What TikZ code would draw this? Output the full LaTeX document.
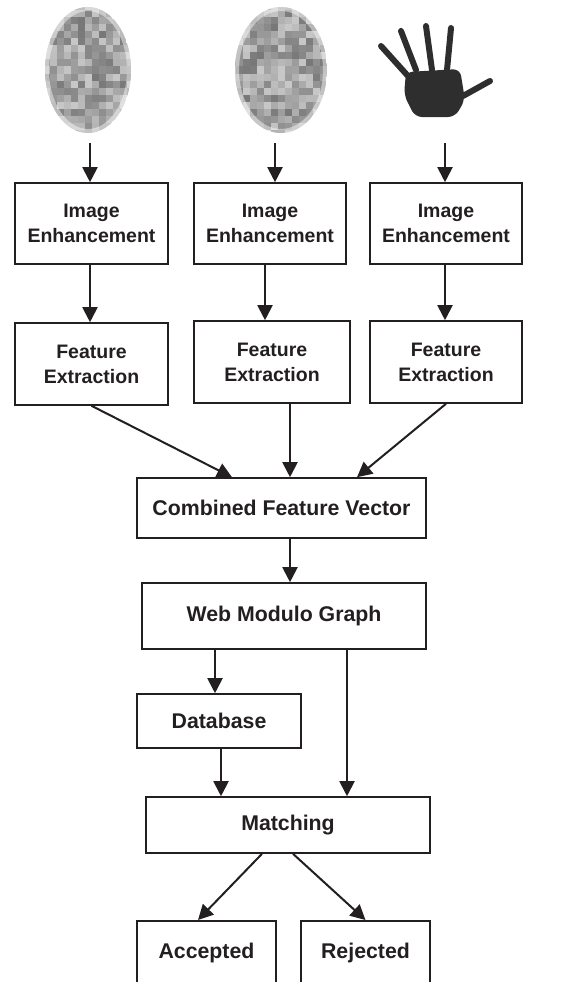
\documentclass[tikz,border=0pt]{standalone}
\usepackage{fontspec}
\setmainfont{Liberation Sans}
\usetikzlibrary{arrows.meta}

\definecolor{ink}{HTML}{231F20}

% grey pixelated oval standing in for a fingerprint scan
\newcommand{\drawprint}[3]{%
  \begin{scope}
    \clip (#1,#2) ellipse (#3pt and 63pt);
    \foreach \i in {-7,...,7}
      \foreach \j in {-10,...,10} {
        \pgfmathsetmacro\shade{int(22+32*rnd)}
        \fill[black!\shade] ({#1+7*\i-3.5},{#2+7*\j-3.5}) rectangle +(7,7);
      }
    \draw[white, opacity=0.45, line width=8pt] (#1,#2) ellipse (#3pt and 63pt);
  \end{scope}}

\tikzset{
  blk/.style={draw=ink, line width=1.6pt, text=ink, font=\bfseries, align=center, inner sep=0pt},
  small/.style={blk, font=\fontsize{19.5}{25}\selectfont\bfseries},
  big/.style={blk, font=\fontsize{21.3}{25}\selectfont\bfseries},
  arr/.style={draw=ink, line width=2pt, -{Triangle[length=15pt,width=15pt]}},
}

\begin{document}
\begin{tikzpicture}[x=1pt, y=-1pt]
\clip (0,0) rectangle (572,982);

% input images
\pgfmathsetseed{11}
\drawprint{88}{70}{43}
\drawprint{281}{70}{46}
\begin{scope}[black!82, line width=6pt, line cap=round]
  \fill[rounded corners=7pt] (406,72) -- (460,69) -- (465,100) -- (455,117) -- (415,117) -- (404,95) -- cycle;
  \draw (381,46) -- (408,76);
  \draw (401,31) -- (416,70);
  \draw (426,26) -- (432,70);
  \draw (451,28) -- (447,70);
  \draw (463,96) -- (490,81);
\end{scope}
\coordinate (src1) at (90,143);
\coordinate (src2) at (275,143);
\coordinate (src3) at (445,143);

% per-modality stages
\node[small, minimum width=153, minimum height=81] (IE1) at (91.5,223.5) {Image\\Enhancement};
\node[small, minimum width=152, minimum height=81] (IE2) at (270,223.5) {Image\\Enhancement};
\node[small, minimum width=152, minimum height=81] (IE3) at (446,223.5) {Image\\Enhancement};
\node[small, minimum width=153, minimum height=82] (FE1) at (91.5,364) {Feature\\Extraction};
\node[small, minimum width=156, minimum height=82] (FE2) at (272,362) {Feature\\Extraction};
\node[small, minimum width=152, minimum height=82] (FE3) at (446,362) {Feature\\Extraction};

% fusion and decision
\node[big, minimum width=289, minimum height=60] (CFV) at (281.5,508) {Combined Feature Vector};
\node[big, minimum width=284, minimum height=66] (WMG) at (284,616) {Web Modulo Graph};
\node[big, minimum width=164, minimum height=54] (DB) at (219,721) {Database};
\node[big, minimum width=284, minimum height=56] (MAT) at (288,825) {Matching};
\node[big, minimum width=139, minimum height=64, anchor=north] (ACC) at (206.5,920) {Accepted};
\node[big, minimum width=129, minimum height=64, anchor=north] (REJ) at (365.5,920) {Rejected};

\draw[arr] (src1) -- (src1 |- IE1.north);
\draw[arr] (src2) -- (src2 |- IE2.north);
\draw[arr] (src3) -- (src3 |- IE3.north);
\draw[arr] (IE1.south -| src1) -- (src1 |- FE1.north);
\draw[arr] ([xshift=-5]IE2.south) -- ([xshift=-7]FE2.north);
\draw[arr] (IE3.south -| src3) -- (src3 |- FE3.north);

\draw[arr] (FE1.south) -- ([xshift=-49.5]CFV.north);
\draw[arr] ([xshift=18]FE2.south) -- ([xshift=8.5]CFV.north);
\draw[arr] (FE3.south) -- ([xshift=75.5]CFV.north);
\draw[arr] ([xshift=8.5]CFV.south) -- ([xshift=6]WMG.north);
\draw[arr] ([xshift=-69]WMG.south) -- ([xshift=-69]WMG.south |- DB.north);
\draw[arr] ([xshift=63]WMG.south) -- ([xshift=63]WMG.south |- MAT.north);
\draw[arr] ([xshift=2]DB.south) -- ([xshift=2]DB.south |- MAT.north);
\draw[arr] ([xshift=-26]MAT.south) -- ([xshift=-8.5]ACC.north);
\draw[arr] ([xshift=5]MAT.south) -- (REJ.north);
\end{tikzpicture}
\end{document}
